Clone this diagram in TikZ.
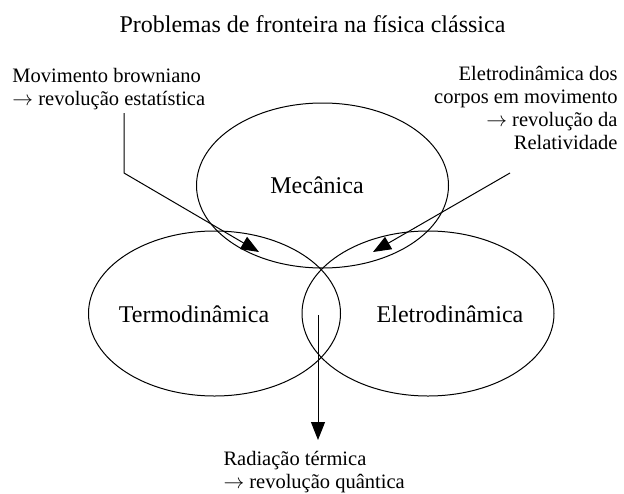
\documentclass[tikz,border=0pt]{standalone}
\usepackage{fontspec}
\setmainfont{Liberation Serif}
\usetikzlibrary{shapes.geometric,arrows.meta}
\begin{document}
\begin{tikzpicture}[x=1pt,y=-1pt,
  line width=1pt,
  set/.style={draw,ellipse,inner sep=0pt,minimum width=252pt,minimum height=165pt},
  big/.style={font=\fontsize{24}{27}\selectfont,inner sep=0pt},
  small/.style={font=\fontsize{20.5}{23}\selectfont,inner sep=0pt},
  arr/.style={-{Triangle[length=18pt,width=14pt]}}]
\useasboundingbox (0,0) rectangle (624,493);
\node[set] (mec) at (322.5,185.5) {};
\node[set] (termo) at (214.5,313.5) {};
\node[set] (eletro) at (428,313.5) {};
\node[big,anchor=base] (title) at (312.5,32) {Problemas de fronteira na física clássica};
\node[big,anchor=base] (mectxt) at (317,193) {Mecânica};
\node[big,anchor=base] (termotxt) at (194,322) {Termodinâmica};
\node[big,anchor=base] (eletrotxt) at (450,322) {Eletrodinâmica};
\node[small,anchor=base west,align=left] (brown) at (12,105) {Movimento browniano\\$\rightarrow$ revolução estatística};
\node[small,anchor=base east,align=right] (rel) at (618,149) {Eletrodinâmica dos\\corpos em movimento\\$\rightarrow$ revolução da\\Relatividade};
\node[small,anchor=base west,align=left] (rad) at (223,488) {Radiação térmica\\$\rightarrow$ revolução quântica};
\coordinate (b0) at (124,113);
\coordinate (b1) at (124,173);
\coordinate (b2) at (259,252);
\coordinate (r0) at (510,173);
\coordinate (r1) at (373,252);
\coordinate (q0) at (318,315);
\coordinate (q1) at (318,440);
\draw[arr] (b0) -- (b1) -- (b2);
\draw[arr] (r0) -- (r1);
\draw[arr] (q0) -- (q1);
\end{tikzpicture}
\end{document}
